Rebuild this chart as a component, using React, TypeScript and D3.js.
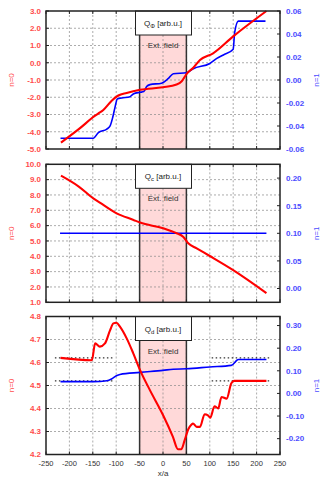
import React from 'react';
import * as d3 from 'd3';

// x positions / values (x/a)
const phiRedX = [-218, -180, -145, -138, -127.5, -109.6, -95.5, -77.6, -49, -0.6, 29, 40, 50.6, 64.7, 79, 107, 150, 221];
const phiRedY = [-4.63, -3.85, -3.07, -2.94, -2.74, -2.2, -1.9, -1.75, -1.57, -1.42, -1.26, -1.07, -0.64, -0.29, 0.16, 0.55, 1.53, 3.0];
const phiBlueX = [-219, -149, -138, -120, -113, -107.5, -102.6, -97.6, -88, -70.5, -63.5, -49, -41, -35, -28, -3, 11, 22, 50.6, 64.7, 100, 115, 129, 150, 153, 161, 219];
const phiBlueY = [-0.0506, -0.0506, -0.0457, -0.0427, -0.0399, -0.0326, -0.0238, -0.0165, -0.0156, -0.0145, -0.0121, -0.0107, -0.0101, -0.0057, -0.004, -0.0028, 0.0011, 0.0054, 0.0063, 0.0098, 0.0144, 0.0188, 0.0218, 0.0268, 0.0409, 0.0512, 0.0512];

const cRedX = [-218, -180, -149, -135, -99, -63, -49, 0, 29, 43, 54, 72, 100, 150, 221];
const cRedY = [9.26, 8.55, 7.78, 7.5, 6.8, 6.37, 6.2, 5.83, 5.5, 5.28, 4.85, 4.52, 4.02, 3.1, 1.6];
const cBlueX = [-220, 221];
const cBlueY = [0.1, 0.1];

const dRedX = [-219, -152, -145, -135, -124, -113, -106, -99.6, -92, -77.6, -63.5, -49, -28, 0, 21, 32, 39, 46, 54, 61, 64, 72, 79, 89, 96, 101, 110, 118, 125, 136, 146, 152, 221];
const dRedY = [4.62, 4.61, 4.683, 4.669, 4.683, 4.741, 4.77, 4.773, 4.756, 4.705, 4.64, 4.567, 4.48, 4.372, 4.278, 4.223, 4.223, 4.26, 4.31, 4.33, 4.335, 4.32, 4.32, 4.375, 4.37, 4.36, 4.41, 4.4, 4.45, 4.443, 4.51, 4.52, 4.52];
const dBlueX = [-219, -149, -120, -110, -99.6, -92, -49, 0, 22, 50, 100, 146, 161, 221];
const dBlueY = [0.052, 0.052, 0.056, 0.064, 0.078, 0.084, 0.093, 0.102, 0.107, 0.109, 0.117, 0.124, 0.15, 0.15];
// dotted reference levels (left axis) in the Q_d panel
const dRefLevels = [4.62, 4.52];
const dRefSpans = [[-231, -107], [104, 232]];

const xTicks = [-250, -200, -150, -100, -50, 0, 50, 100, 150, 200, 250];
const fieldRange = [-50, 50];

const W = 324;
const H = 479;
const left = 46;
const right = 280;
const panelH = 138;

const RED = '#ff0000';
const BLUE = '#0000ff';
const RED_LBL = '#ff4c4c';
const BLUE_LBL = '#4c4cff';
const FONT = 'Liberation Sans, Arial, sans-serif';

const x = d3.scaleLinear().domain([-250, 250]).range([left, right]);

interface PanelProps {
  top: number;
  yDomain: [number, number];
  yTicks: number[];
  y2Domain: [number, number];
  y2Ticks: number[];
  sym: string;
  redX: number[];
  redY: number[];
  blueX: number[];
  blueY: number[];
  showX?: boolean;
  refs?: boolean;
}

const Panel: React.FC<PanelProps> = ({ top, yDomain, yTicks, y2Domain, y2Ticks, sym, redX, redY, blueX, blueY, showX, refs }) => {
  const bottom = top + panelH;
  const y = d3.scaleLinear().domain(yDomain).range([bottom, top]);
  const y2 = d3.scaleLinear().domain(y2Domain).range([bottom, top]);
  const redLine = d3.line<number>().x((_, i) => x(redX[i])).y(d => y(d)).curve(d3.curveMonotoneX);
  const blueLine = d3.line<number>().x((_, i) => x(blueX[i])).y(d => y2(d)).curve(d3.curveMonotoneX);
  const mid = (top + bottom) / 2;
  const fx0 = x(fieldRange[0]);
  const fx1 = x(fieldRange[1]);
  const cx = (fx0 + fx1) / 2;
  return (
    <g>
      <rect x={fx0} y={top} width={fx1 - fx0} height={panelH} fill="#ffd9d9" />
      {/* grid */}
      {xTicks.slice(1, -1).map(t => (
        <line key={'gx' + t} x1={x(t)} x2={x(t)} y1={top} y2={bottom} stroke="#888" strokeWidth={0.7} strokeDasharray="2,2" />
      ))}
      {yTicks.slice(1, -1).map(t => (
        <line key={'gy' + t} x1={left} x2={right} y1={y(t)} y2={y(t)} stroke="#888" strokeWidth={0.7} strokeDasharray="2,2" />
      ))}
      <line x1={fx0} x2={fx0} y1={top} y2={bottom} stroke="#333" strokeWidth={1.5} />
      <line x1={fx1} x2={fx1} y1={top} y2={bottom} stroke="#333" strokeWidth={1.5} />
      {/* ticks */}
      {xTicks.map(t => (
        <g key={'tx' + t}>
          <line x1={x(t)} x2={x(t)} y1={bottom} y2={bottom - 3} stroke="#222" strokeWidth={1} />
          <line x1={x(t)} x2={x(t)} y1={top} y2={top + 3} stroke="#222" strokeWidth={1} />
        </g>
      ))}
      {yTicks.map(t => (
        <g key={'ty' + t}>
          <line x1={left} x2={left + 3} y1={y(t)} y2={y(t)} stroke="#222" strokeWidth={1} />
          <text x={left - 5} y={y(t)} dy="0.35em" textAnchor="end" fontSize={8} fontWeight="bold" fill={RED_LBL} fontFamily={FONT}>
            {t.toFixed(1)}
          </text>
        </g>
      ))}
      {y2Ticks.map(t => (
        <g key={'ty2' + t}>
          <line x1={right} x2={right - 3} y1={y2(t)} y2={y2(t)} stroke="#222" strokeWidth={1} />
          <text x={right + 6} y={y2(t)} dy="0.35em" textAnchor="start" fontSize={8} fontWeight="bold" fill={BLUE_LBL} fontFamily={FONT}>
            {(Math.abs(t) < 1e-9 ? 0 : t).toFixed(2)}
          </text>
        </g>
      ))}
      {showX && xTicks.map(t => (
        <text key={'lx' + t} x={x(t)} y={bottom + 11} textAnchor="middle" fontSize={7.5} fill="#333" fontFamily={FONT}>
          {t}
        </text>
      ))}
      {refs && dRefLevels.map(v => dRefSpans.map(([a, b]) => (
        <line key={'r' + v + a} x1={x(a)} x2={x(b)} y1={y(v)} y2={y(v)} stroke="#000" strokeWidth={1} strokeDasharray="1.5,2.5" />
      )))}
      <path d={blueLine(blueY) || ''} fill="none" stroke={BLUE} strokeWidth={1.6} />
      <path d={redLine(redY) || ''} fill="none" stroke={RED} strokeWidth={2.1} />
      {/* title box */}
      <rect x={135.5} y={top} width={56} height={24} fill="#fff" stroke="#222" strokeWidth={1} />
      <text x={cx} y={top + 15} textAnchor="middle" fontSize={8} fill="#222" fontFamily={FONT}>
        Q<tspan fontSize={6} dy={2}>{sym}</tspan><tspan dy={-2}> [arb.u.]</tspan>
      </text>
      <text x={cx} y={top + 37} textAnchor="middle" fontSize={8} fill="#333" fontFamily={FONT}>Ext. field</text>
      <rect x={left} y={top} width={right - left} height={panelH} fill="none" stroke="#222" strokeWidth={1.5} />
      <text transform={`translate(14,${mid}) rotate(-90)`} textAnchor="middle" fontSize={8} fill={RED_LBL} fontFamily={FONT}>n=0</text>
      <text transform={`translate(319,${mid}) rotate(-90)`} textAnchor="middle" fontSize={8} fill={BLUE_LBL} fontFamily={FONT}>n=1</text>
    </g>
  );
};

const App: React.FC = () => (
  <svg width={W} height={H} style={{ position: 'absolute', left: 0, top: 0, background: '#fff' }}>
    <Panel top={11} yDomain={[-5, 3]} yTicks={d3.range(-5, 3.01, 1)} y2Domain={[-0.06, 0.06]} y2Ticks={d3.range(-0.06, 0.061, 0.02)}
      sym="Φ" redX={phiRedX} redY={phiRedY} blueX={phiBlueX} blueY={phiBlueY} />
    <Panel top={164.3} yDomain={[1, 10]} yTicks={d3.range(1, 10.01, 1)} y2Domain={[-0.025, 0.225]} y2Ticks={d3.range(0, 0.201, 0.05)}
      sym="c" redX={cRedX} redY={cRedY} blueX={cBlueX} blueY={cBlueY} />
    <Panel top={316.5} yDomain={[4.2, 4.8]} yTicks={d3.range(4.2, 4.801, 0.1)} y2Domain={[-0.27, 0.34]} y2Ticks={d3.range(-0.2, 0.301, 0.1)}
      sym="d" redX={dRedX} redY={dRedY} blueX={dBlueX} blueY={dBlueY} showX refs />
    <text x={x(0)} y={476} textAnchor="middle" fontSize={8} fill="#333" fontFamily={FONT}>x/a</text>
  </svg>
);

export default App;
